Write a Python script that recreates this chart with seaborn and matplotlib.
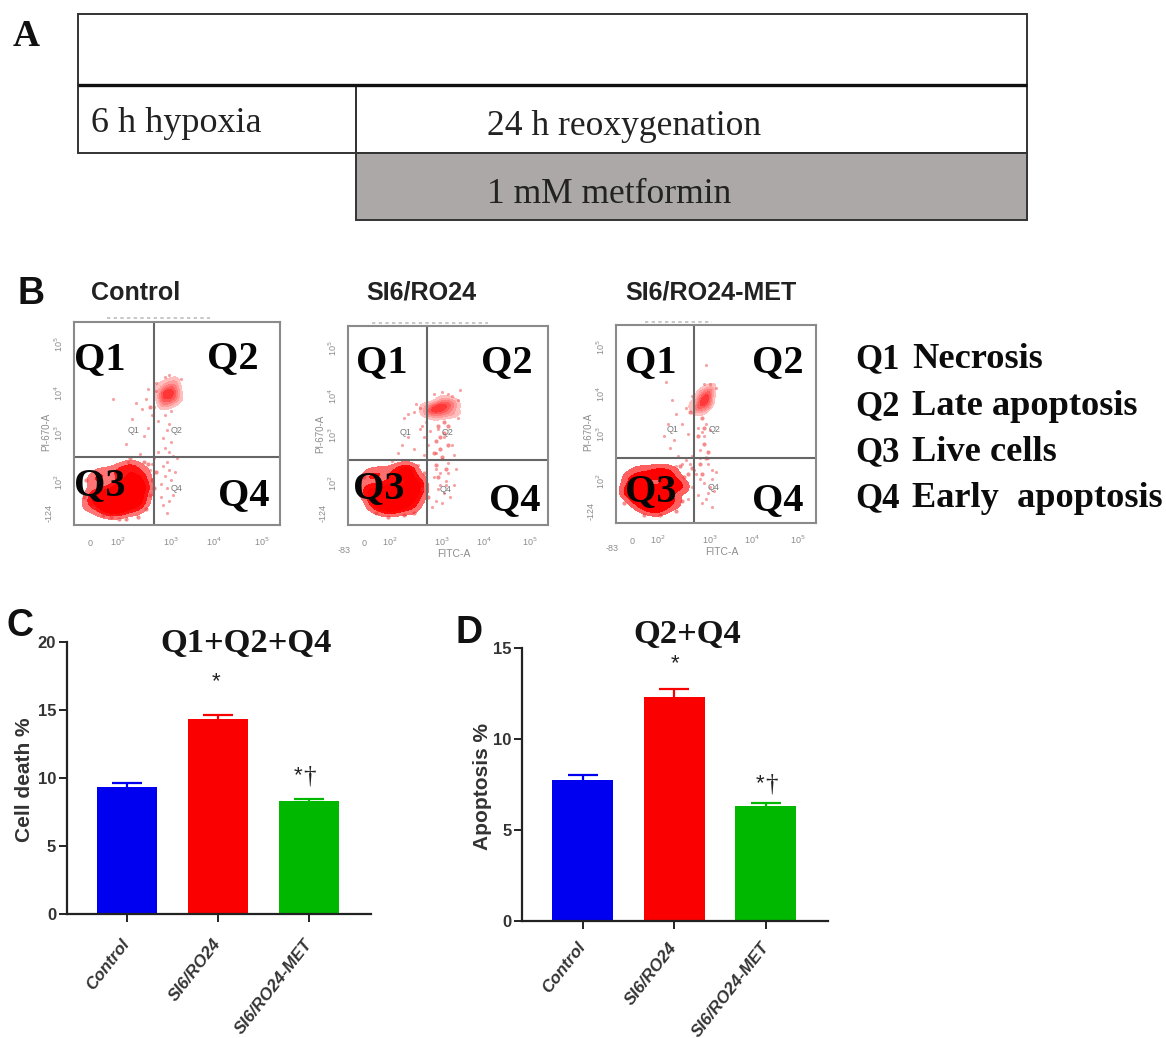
import matplotlib
matplotlib.use("Agg")
import matplotlib.pyplot as plt
from matplotlib.colors import LinearSegmentedColormap
from matplotlib.patches import Rectangle
import pandas as pd
import seaborn as sns

W, H = 1166, 1038
SERIF = "Liberation Serif"
SANS = "Liberation Sans"

# ---- data ----
groups = ["Control", "SI6/RO24", "SI6/RO24-MET"]
bar_colors = ["#0000f0", "#fa0000", "#00b800"]
cell_death = [9.3, 14.3, 8.3]
cell_death_err = [0.35, 0.35, 0.13]
apoptosis = [7.75, 12.3, 6.3]
apoptosis_err = [0.3, 0.45, 0.2]
legend_keys = ["Q1", "Q2", "Q3", "Q4"]
legend_words = ["Necrosis", "Late apoptosis", "Live cells", "Early  apoptosis"]

# flow cytometry events, read as % of each plot's width / height
ctrl_core_x = [9, 12, 15, 20, 25, 30, 32, 24, 17, 27, 21, 33, 29, 14, 18, 23, 28, 22, 19, 26, 31, 16, 10, 13, 33, 35, 31, 8, 20, 25]
ctrl_core_y = [15, 14, 11, 9, 9, 14, 21, 17, 17, 23, 13, 25, 28, 8, 7, 7, 12, 20, 13, 19, 18, 14, 22, 25, 12, 18, 8, 10, 26, 28]
ctrl_q2_x = [43, 45, 47, 49, 46, 48, 44, 50, 42, 47, 45, 46, 48, 44, 41, 51, 49, 43]
ctrl_q2_y = [64, 66, 66, 64, 62, 68, 61, 67, 63, 60, 70, 65, 63, 65, 68, 62, 71, 59]
ctrl_mid_x = [37, 9, 6, 38, 36, 25, 18, 14, 37, 35, 39, 34, 5, 31, 22, 27, 40]
ctrl_mid_y = [58, 9, 22, 22, 30, 3, 4, 5, 15, 8, 18, 31, 14, 4, 3, 33, 26]
ctrl_sparse_x = [30, 33, 35, 38, 40, 36, 39, 41, 34, 28, 25, 19, 44, 46, 45, 43, 47, 44, 46, 48, 45, 43, 46, 44,
                 47, 42, 45, 48, 46, 43, 50, 49, 41, 39, 38, 37, 52, 44, 46, 47, 40, 36, 32, 26, 42, 45]
ctrl_sparse_y = [60, 57, 62, 54, 66, 48, 58, 51, 44, 52, 40, 62, 54, 50, 47, 43, 41, 38, 36, 34, 31, 29, 27, 24,
                 22, 20, 18, 15, 12, 10, 33, 26, 36, 33, 30, 27, 72, 73, 74, 56, 70, 67, 35, 31, 14, 6]

ro_core_x = [9, 11, 15, 20, 25, 30, 33, 24, 17, 28, 21, 35, 31, 13, 18, 23, 27, 32, 26, 22, 15, 19, 10, 14, 34, 36, 31, 20, 26, 30]
ro_core_y = [18, 16, 13, 10, 10, 14, 20, 18, 19, 24, 14, 22, 26, 10, 8, 8, 12, 18, 16, 20, 15, 14, 24, 26, 12, 17, 8, 26, 28, 28]
ro_q2_x = [39, 42, 45, 48, 51, 53, 46, 49, 43, 50, 47, 41, 44, 52, 48, 46, 43, 50, 38, 54, 47, 44]
ro_q2_y = [57, 58, 58, 59, 58, 60, 56, 62, 60, 55, 61, 56, 59, 62, 57, 60, 57, 60, 60, 56, 64, 54]
ro_mid_x = [45, 48, 44, 46, 50, 47, 44, 49, 46, 50, 45, 43, 48, 8, 38, 37, 28, 14, 40, 20, 33]
ro_mid_y = [50, 46, 42, 38, 50, 34, 30, 28, 44, 40, 24, 36, 52, 24, 26, 18, 5, 6, 14, 4, 6]
ro_sparse_x = [30, 33, 36, 28, 34, 55, 52, 43, 47, 50, 45, 48, 52, 44, 47, 50, 53, 46, 43, 49, 54, 45, 48, 51, 44,
               30, 27, 25, 22, 36, 33, 38, 40, 41, 39, 37, 55, 50, 47, 42, 38, 35, 44, 46, 49, 53, 56]
ro_sparse_y = [56, 57, 59, 54, 61, 63, 65, 66, 67, 66, 48, 44, 40, 36, 33, 31, 35, 26, 24, 22, 28, 18, 16, 14, 12,
               44, 40, 36, 32, 48, 38, 44, 40, 47, 52, 50, 54, 26, 11, 9, 35, 30, 28, 20, 20, 20, 68]

met_core_x = [8, 10, 13, 18, 22, 26, 14, 20, 25, 30, 17, 9, 28, 12, 16, 21, 24, 19, 11, 15, 27, 6, 7, 29, 33, 24, 12, 20]
met_core_y = [15, 18, 12, 9, 9, 14, 18, 17, 21, 20, 24, 14, 25, 10, 8, 7, 11, 13, 21, 15, 18, 17, 23, 10, 18, 26, 26, 26]
met_q2_x = [41, 43, 45, 47, 42, 44, 46, 40, 45, 43, 46, 44, 38, 48, 47, 42]
met_q2_y = [57, 60, 62, 64, 63, 57, 60, 58, 67, 61, 65, 63, 60, 68, 60, 66]
met_mid_x = [34, 36, 32, 33, 4, 38, 37, 43, 41, 44, 46, 42, 22, 14, 30, 44, 45, 43]
met_mid_y = [23, 25, 29, 11, 10, 28, 56, 53, 44, 40, 36, 30, 4, 4, 6, 48, 33, 25]
met_sparse_x = [25, 28, 30, 33, 36, 24, 27, 31, 26, 29, 35, 38, 41, 43, 45, 47, 44, 42, 46, 48, 40, 38, 42, 44, 47,
                49, 41, 45, 43, 48, 46, 44, 47, 50, 37, 39, 42, 35, 33, 30, 38, 36, 46, 48, 50, 45]
met_sparse_y = [71, 62, 55, 50, 45, 44, 38, 34, 50, 42, 58, 64, 48, 46, 50, 47, 44, 33, 30, 27, 25, 34, 22, 20, 18,
                16, 14, 12, 10, 22, 33, 70, 70, 68, 30, 27, 37, 32, 30, 29, 18, 12, 15, 8, 26, 80]

flow_panels = [
    ("Control", 74, 280, 322, 525, 154, 457, ctrl_core_x, ctrl_core_y, ctrl_q2_x, ctrl_q2_y,
     ctrl_mid_x, ctrl_mid_y, ctrl_sparse_x, ctrl_sparse_y),
    ("SI6/RO24", 348, 548, 326, 525, 427, 460, ro_core_x, ro_core_y, ro_q2_x, ro_q2_y,
     ro_mid_x, ro_mid_y, ro_sparse_x, ro_sparse_y),
    ("SI6/RO24-MET", 616, 816, 325, 523, 694, 458, met_core_x, met_core_y, met_q2_x, met_q2_y,
     met_mid_x, met_mid_y, met_sparse_x, met_sparse_y),
]

sns.set_theme(style="white", rc={"axes.facecolor": "none"})
plt.rcParams["font.family"] = [SANS, "DejaVu Sans"]
fig = plt.figure(figsize=(W / 100, H / 100), dpi=100, facecolor="white")

core_cmap = LinearSegmentedColormap.from_list(
    "core", [(1, 0.7, 0.7, 1), (1, 0.3, 0.3, 1), (1, 0, 0, 1), (1, 0, 0, 1), (1, 0, 0, 1), (1, 0, 0, 1)])
q2_cmap = LinearSegmentedColormap.from_list(
    "q2", [(1, 0.82, 0.82, 1), (1, 0.5, 0.5, 1), (1, 0.15, 0.15, 1)])


def place(x0, x1, y0, y1, **kw):
    """Axes from pixel edges (y measured from the top of the image)."""
    return fig.add_axes([x0 / W, 1 - y1 / H, (x1 - x0) / W, (y1 - y0) / H], **kw)


page = place(0, W, 0, H)
page.set_xlim(0, W)
page.set_ylim(H, 0)
page.axis("off")
page.set_zorder(5)


def T(x, y, s, size, family=SERIF, weight="normal", color="#111111", **kw):
    kw.setdefault("ha", "left")
    kw.setdefault("va", "baseline")
    page.text(x, y, s, fontsize=size, family=family, weight=weight, color=color, **kw)


# ---- panel A ----
box = dict(edgecolor="#333333", linewidth=1.4)
page.add_patch(Rectangle((78, 14), 949, 71, facecolor="none", **box))
page.add_patch(Rectangle((78, 85), 278, 68, facecolor="none", **box))
page.add_patch(Rectangle((356, 85), 671, 68, facecolor="none", **box))
page.add_patch(Rectangle((356, 153), 671, 67, facecolor="#aca8a7", **box))
page.plot([78, 1027], [85, 85], color="#111111", lw=2.4, solid_capstyle="butt")
T(13, 46, "A", 27, weight="bold")
T(91, 132, "6 h hypoxia", 26, color="#222222")
T(487, 135, "24 h reoxygenation", 25.6, color="#222222")
T(487, 203, "1 mM metformin", 25.6, color="#222222")

# ---- panel B ----
T(17, 304, "B", 27, family=SANS, weight="bold", color="#111111")
title_x = [91, 366, 625]
for name, x in zip(groups, title_x):
    T(x, 300, name, 18.1, family=SANS, weight="bold", color="#222222")

for ly, key, word in zip([368, 415, 461, 507], legend_keys, legend_words):
    T(855, ly, key, 25, weight="bold", color="#0c0c0c")
    T(912, ly, word, 26.2, weight="bold", color="#0c0c0c")

q_offsets = {
    "Control": [(74, 369), (207, 368), (74, 495), (218, 505)],
    "SI6/RO24": [(356, 372), (481, 372), (353, 498), (489, 510)],
    "SI6/RO24-MET": [(625, 372), (752, 372), (625, 501), (752, 510)],
}
small_q = {
    "Control": [(134, 433), (177, 433), (177, 491)],
    "SI6/RO24": [(406, 435), (448, 435), (446, 492)],
    "SI6/RO24-MET": [(673, 432), (715, 432), (714, 490)],
}
top_marks = {"Control": (107, 210, 318), "SI6/RO24": (372, 488, 323), "SI6/RO24-MET": (645, 712, 322)}

for (name, x0, x1, y0, y1, vx, hy, cx, cy, qx2, qy2, mx, my, sx, sy) in flow_panels:
    ax = place(x0, x1, y0, y1)
    ax.set_zorder(2)
    sns.kdeplot(x=qx2, y=qy2, fill=True, cmap=q2_cmap, levels=6, thresh=0.12, bw_adjust=1.1,
                antialiased=False, ax=ax)
    sns.kdeplot(x=cx, y=cy, fill=True, cmap=core_cmap, levels=6, thresh=0.08, bw_adjust=0.8,
                antialiased=False, ax=ax)
    sns.scatterplot(x=sx, y=sy, s=5, color="#f03030", alpha=0.45, linewidth=0, ax=ax, legend=False)
    sns.scatterplot(x=mx, y=my, s=9, color="#f03030", alpha=0.55, linewidth=0, ax=ax, legend=False)
    ax.set_xlim(0, 100)
    ax.set_ylim(0, 100)
    ax.set_xlabel("")
    ax.set_ylabel("")
    ax.axvline(100 * (vx - x0) / (x1 - x0), color="#666666", lw=1.5)
    ax.axhline(100 * (y1 - hy) / (y1 - y0), color="#666666", lw=1.5)
    for sp in ax.spines.values():
        sp.set_color("#8a8a8a")
        sp.set_linewidth(1.5)
    ax.set_xticks([5, 8, 11, 14, 17, 20, 24, 28, 35, 42, 47, 52, 60, 67, 70, 72, 73, 74, 90, 92, 93, 99])
    ax.set_yticks([2, 4, 6, 8, 11, 14, 18, 22, 24, 26, 45, 47, 48, 49, 50, 65, 67, 68, 69, 70, 88, 90, 92])
    ax.set_xticklabels([])
    ax.set_yticklabels([])
    ax.tick_params(axis="both", length=3, width=1, color="#8a8a8a", direction="out")
    c = "#8c8c8c"
    tx = [x0 + 0.08 * (x1 - x0), x0 + 0.21 * (x1 - x0), x0 + 0.47 * (x1 - x0), x0 + 0.68 * (x1 - x0), x0 + 0.91 * (x1 - x0)]
    for xx, lab in zip(tx, ["0", "10$^2$", "10$^3$", "10$^4$", "10$^5$"]):
        T(xx, y1 + 21, lab, 6.5, family=SANS, color=c, ha="center")
    if name != "Control":
        T(x0 - 4, y1 + 28, "-83", 6.5, family=SANS, color=c, ha="center")
        T(x0 + 0.53 * (x1 - x0), y1 + 32, "FITC-A", 7.5, family=SANS, color=c, ha="center")
    for frac, lab in zip([0.89, 0.65, 0.45, 0.21], ["10$^5$", "10$^4$", "10$^3$", "10$^2$"]):
        T(x0 - 15, y1 - frac * (y1 - y0), lab, 6.5, family=SANS, color=c, rotation=90, ha="center", va="center")
    T(x0 - 25, y1 - 3, "-124", 6.5, family=SANS, color=c, rotation=90, ha="center", va="bottom")
    T(x0 - 28, y1 - 0.46 * (y1 - y0), "PI-670-A", 7, family=SANS, color=c, rotation=90, ha="center", va="center")
    mx0, mx1, my0 = top_marks[name]
    page.plot([mx0, mx1], [my0, my0], color="#bdbdbd", lw=1.2, ls=(0, (2, 2)))
    for (qx, qy), lab in zip(small_q[name], ["Q1", "Q2", "Q4"]):
        T(qx, qy, lab, 6.5, family=SANS, color="#777777", ha="center")
    for (qx, qy), lab in zip(q_offsets[name], ["Q1", "Q2", "Q3", "Q4"]):
        T(qx, qy, lab, 29, weight="bold", color="#050505")


# ---- panels C, D ----
def bars(x0, x1, y0, y1, values, errors, ymax, yticks, ylabel, ylabel_x, ylabel_y, xpad):
    ax = place(x0, x1, y0, y1)
    df = pd.DataFrame({"group": groups, "value": values})
    sns.barplot(data=df, x="group", y="value", hue="group", palette=bar_colors, width=0.667,
                dodge=False, legend=False, saturation=1, linewidth=0, ax=ax, zorder=2)
    for pos, (v, e, col) in enumerate(zip(values, errors, bar_colors)):
        _, caps, _ = ax.errorbar(pos, v, yerr=[[0], [e]], color=col, capsize=10.5, elinewidth=1.6,
                                 capthick=1.6, fmt="none", zorder=1)
        caps[0].remove()
    ax.set_ylim(0, ymax)
    ax.set_yticks(yticks)
    ax.set_xlim(-0.665, 2.68)
    ax.set_xlabel("")
    ax.set_ylabel("")
    sns.despine(ax=ax)
    for s in ("left", "bottom"):
        ax.spines[s].set_linewidth(1.6)
        ax.spines[s].set_color("#222222")
    ax.tick_params(axis="both", length=5.5, width=1.4, color="#222222", direction="out",
                   bottom=True, left=True, pad=2)
    for lab in ax.get_yticklabels():
        lab.set(fontsize=12, fontweight="bold", color="#333333", family=SANS)
    ax.set_xticks(range(3))
    ax.set_xticklabels(groups, rotation=52, ha="right", va="center", rotation_mode="anchor",
                       fontsize=12.2, fontstyle="italic", fontweight="bold", color="#333333", family=SANS)
    ax.tick_params(axis="x", pad=xpad)
    T(ylabel_x, ylabel_y, ylabel, 15, family=SANS, weight="bold", color="#333333",
      rotation=90, ha="center", va="center")


bars(66.5, 371, 641.7, 914, cell_death, cell_death_err, 20, [0, 5, 10, 15, 20], "Cell death %", 25, 780, 14)
bars(522, 828, 648.3, 920.7, apoptosis, apoptosis_err, 15, [0, 5, 10, 15], "Apoptosis %", 482, 786, 11.5)

T(6, 636, "C", 27, family=SANS, weight="bold")
T(456, 643, "D", 27, family=SANS, weight="bold")
T(160, 652, "Q1+Q2+Q4", 24.8, weight="bold", color="#151515")
T(633, 643, "Q2+Q4", 24.8, weight="bold", color="#151515")
T(216.5, 687, "*", 16, family=SANS, ha="center", color="#222222")
T(294, 781, "*", 16, family=SANS, color="#222222")
T(303, 782, "†", 18, color="#222222")
T(675, 669, "*", 16, family=SANS, ha="center", color="#222222")
T(756, 789, "*", 16, family=SANS, color="#222222")
T(765, 791, "†", 18, color="#222222")

fig.savefig("out.png", dpi=100, facecolor="white")
